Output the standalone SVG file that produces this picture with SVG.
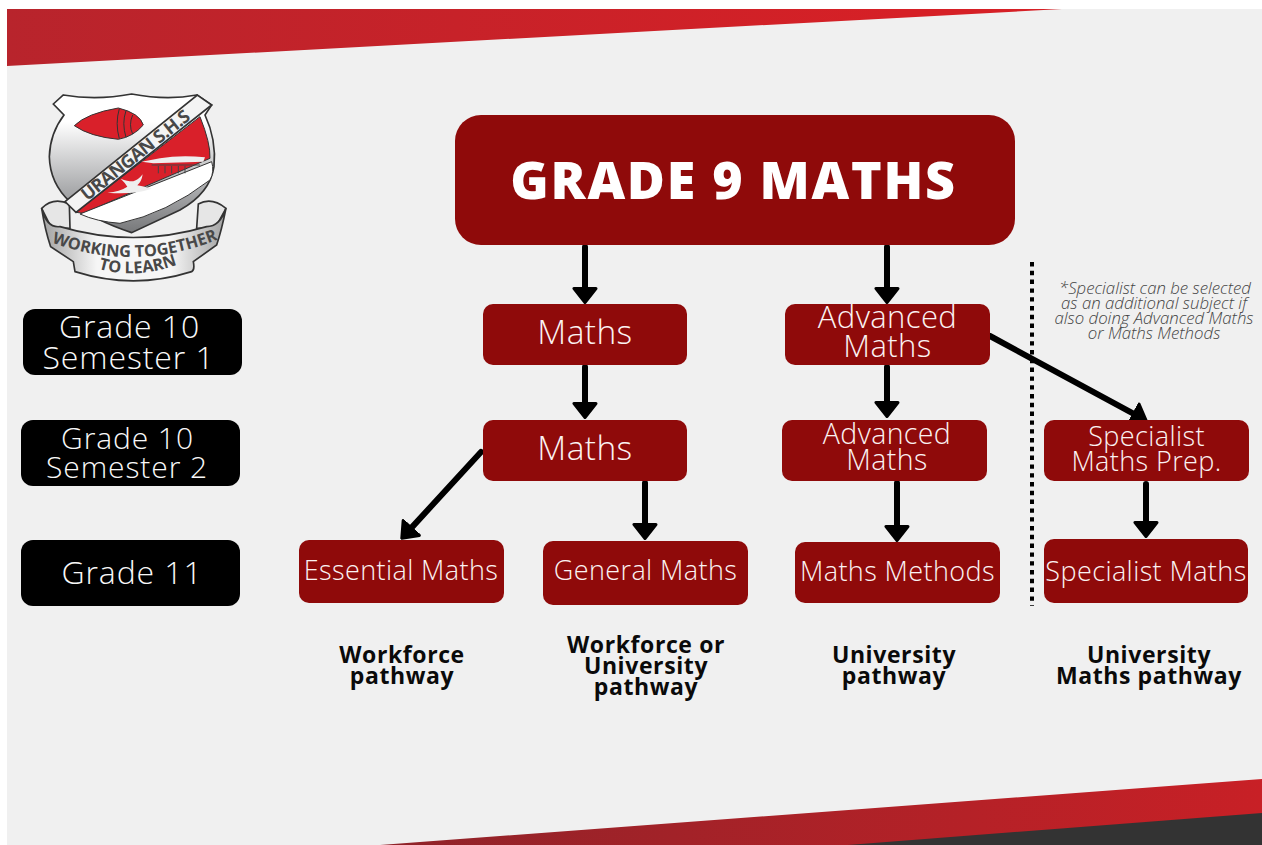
<svg xmlns="http://www.w3.org/2000/svg" width="1262" height="845" viewBox="0 0 1262 845">
<style>
.n{fill:#8f0a0a}
.k{fill:#000}
.t{font-family:"Open Sans","DejaVu Sans",sans-serif;font-weight:300;fill:#fbf2f2;text-anchor:middle;letter-spacing:.4px}
.w{font-family:"Open Sans","DejaVu Sans",sans-serif;font-weight:300;fill:#f8f8f8;text-anchor:middle;letter-spacing:.9px}
.title{font-family:"Open Sans","DejaVu Sans",sans-serif;font-weight:800;font-size:52px;fill:#fff;text-anchor:middle;letter-spacing:1.7px}
.p{font-family:"Open Sans","DejaVu Sans",sans-serif;font-weight:700;font-size:23px;fill:#0a0a0a;text-anchor:middle;letter-spacing:.6px}
.c{fill:none;stroke:#000;stroke-width:6;stroke-linecap:round}
.lg{font-family:"Open Sans","DejaVu Sans",sans-serif;font-weight:700;fill:#484848}
</style>
<defs>
<linearGradient id="top" x1="0" x2="1" y1="0" y2="0"><stop offset="0" stop-color="#b8242c"/><stop offset="0.85" stop-color="#d62026"/><stop offset="1" stop-color="#d62026"/></linearGradient>
<linearGradient id="bot" x1="0" x2="1" y1="0" y2="0"><stop offset="0" stop-color="#8f2329"/><stop offset="1" stop-color="#c82026"/></linearGradient>
<linearGradient id="sh" x1="0" x2="0" y1="0" y2="1"><stop offset="0.2" stop-color="#ffffff"/><stop offset="0.7" stop-color="#a8a9ab"/><stop offset="1" stop-color="#77787a"/></linearGradient>
<linearGradient id="rib" x1="0" x2="1" y1="0" y2="0"><stop offset="0" stop-color="#a0a0a0"/><stop offset="0.3" stop-color="#f6f6f6"/><stop offset="0.7" stop-color="#f6f6f6"/><stop offset="1" stop-color="#a0a0a0"/></linearGradient>
<marker id="a" markerUnits="userSpaceOnUse" markerWidth="17" markerHeight="26" refX="1" refY="13" orient="auto" viewBox="0 0 17 26"><path d="M1.5 2L15.5 13L1.5 24Z" fill="#000" stroke="#000" stroke-width="3" stroke-linejoin="round"/></marker>
<path id="arc1" d="M95,487 Q340,580 595,478"/>
<path id="arc2" d="M235,566 Q345,600 475,553"/>
</defs>
<rect width="1262" height="845" fill="#fff"/>
<rect x="7" y="9" width="1255" height="836" fill="#f0f0f0"/>
<polygon points="7,9 1062,9 7,66" fill="url(#top)"/>
<polygon points="380,845 1262,779 1262,845" fill="url(#bot)"/>
<polygon points="848,845 1262,813 1262,845" fill="#333"/>

<g id="logo" transform="translate(20 80) scale(0.3333)">
<path d="M65,385 Q100,350 148,372 L150,445 L95,445 Z" fill="#e6e6e6" stroke="#333" stroke-width="5"/>
<path d="M618,385 Q575,350 535,372 L530,445 L585,445 Z" fill="#e6e6e6" stroke="#333" stroke-width="5"/>
<path d="M65,385 Q80,445 120,440 Q340,505 560,440 Q600,440 618,385 Q605,450 590,495 L520,545 Q525,570 515,575 Q340,630 165,575 L160,545 L92,500 Q75,450 65,385Z" fill="url(#rib)" stroke="#333" stroke-width="5"/>
<path d="M100,72 L130,45 Q230,62 335,42 Q440,62 530,45 L575,75 L555,105 Q590,180 582,260 Q570,340 480,390 L335,458 Q220,420 150,365 Q90,310 88,230 Q90,160 132,105 Z" fill="url(#sh)" stroke="#333" stroke-width="5"/>
<path d="M168,397 L540,110 Q572,190 570,235 L190,400 Z" fill="#d9202a" stroke="#333" stroke-width="3"/>
<path d="M135,365 L532,45 L575,75 L168,397 Z" fill="#f4f4f4" stroke="#333" stroke-width="5"/>
<path d="M180,402 L575,245 Q584,275 570,300 Q440,400 300,430 Q230,425 180,402Z" fill="#fff" stroke="#333" stroke-width="3"/>
<path d="M163,137 Q200,100 295,84 Q360,100 370,135 Q340,170 295,178 Q210,170 163,137Z" fill="#d9202a" stroke="#333" stroke-width="3"/>
<path d="M298,86 Q285,130 298,176 M318,92 Q305,130 318,172 M338,105 Q325,135 338,162" fill="none" stroke="#333" stroke-width="3"/>
<path d="M365,245 L420,235 Q480,225 555,232 L550,245 L400,250Z" fill="#eee"/>
<path d="M395,255 H540 M415,258 V280 M435,258 V280 M455,258 V280 M475,258 V280 M495,258 V280" fill="none" stroke="#444" stroke-width="3"/>
<path d="M302,296 Q325,305 340,304 Q355,300 368,283 Q365,305 352,316 Q375,320 395,326 Q340,345 262,338 Q300,335 322,320 Q315,308 302,296Z" fill="#eee"/>
<text class="lg" font-size="54" text-anchor="middle" transform="translate(358 240) rotate(-38.5)" textLength="400">URANGAN S.H.S</text>
<text class="lg" font-size="49"><textPath href="#arc1">WORKING TOGETHER</textPath></text>
<text class="lg" font-size="49"><textPath href="#arc2">TO LEARN</textPath></text>
</g>

<g id="connectors">
<line class="c" x1="585" y1="247" x2="585" y2="288" marker-end="url(#a)"/>
<line class="c" x1="887" y1="247" x2="887" y2="288" marker-end="url(#a)"/>
<line class="c" x1="585" y1="367" x2="585" y2="403" marker-end="url(#a)"/>
<line class="c" x1="887" y1="367" x2="887" y2="402" marker-end="url(#a)"/>
<line class="c" x1="990" y1="336" x2="1133.4" y2="413.6" marker-end="url(#a)"/>
<line class="c" x1="481" y1="452" x2="411.6" y2="527.6" marker-end="url(#a)"/>
<line class="c" x1="645" y1="483" x2="645" y2="524" marker-end="url(#a)"/>
<line class="c" x1="897" y1="483" x2="897" y2="526" marker-end="url(#a)"/>
<line class="c" x1="1146" y1="484" x2="1146" y2="522" marker-end="url(#a)"/>
<line x1="1032" y1="262" x2="1032" y2="606" fill="none" stroke="#000" stroke-width="4" stroke-dasharray="4.4 4.4"/>
</g>

<g id="grade9"><rect class="n" x="455" y="115" width="560" height="130" rx="26"/><text class="title" x="733.5" y="199">GRADE 9 MATHS</text></g>
<g id="maths1"><rect class="n" x="483" y="304" width="204" height="61" rx="10"/><text class="t" x="585" y="344" font-size="33.5">Maths</text></g>
<g id="adv1"><rect class="n" x="785" y="304" width="205" height="61" rx="10"/><text class="t" x="887.5" y="328" font-size="31">Advanced</text><text class="t" x="887.5" y="357" font-size="31">Maths</text></g>
<g id="maths2"><rect class="n" x="483" y="420" width="204" height="61" rx="10"/><text class="t" x="585" y="460" font-size="33.5">Maths</text></g>
<g id="adv2"><rect class="n" x="782" y="420" width="205" height="61" rx="10"/><text class="t" x="887" y="444" font-size="28.5">Advanced</text><text class="t" x="887" y="470" font-size="28.5">Maths</text></g>
<g id="spec-prep"><rect class="n" x="1044" y="420" width="205" height="61" rx="10"/><text class="t" x="1146.5" y="446" font-size="27">Specialist</text><text class="t" x="1146.5" y="471" font-size="27">Maths Prep.</text></g>
<g id="essential"><rect class="n" x="299" y="540" width="205" height="63" rx="10"/><text class="t" x="401" y="580" font-size="27">Essential Maths</text></g>
<g id="general"><rect class="n" x="543" y="541" width="205" height="64" rx="10"/><text class="t" x="645.5" y="580" font-size="27">General Maths</text></g>
<g id="methods"><rect class="n" x="795" y="542" width="205" height="61" rx="10"/><text class="t" x="897.5" y="581" font-size="27">Maths Methods</text></g>
<g id="specialist"><rect class="n" x="1044" y="539" width="204" height="64" rx="10"/><text class="t" x="1146" y="581" font-size="27">Specialist Maths</text></g>

<g id="g10s1"><rect class="k" x="23" y="309" width="219" height="66" rx="12"/><text class="w" x="129.5" y="338" font-size="32">Grade 10</text><text class="w" x="128.5" y="369" font-size="32">Semester 1</text></g>
<g id="g10s2"><rect class="k" x="21" y="420" width="219" height="66" rx="12"/><text class="w" x="127.5" y="449" font-size="30">Grade 10</text><text class="w" x="127" y="478" font-size="30">Semester 2</text></g>
<g id="g11"><rect class="k" x="21" y="540" width="219" height="66" rx="12"/><text class="w" x="132" y="584" font-size="32">Grade 11</text></g>

<g id="note" font-family="'Open Sans','DejaVu Sans',sans-serif" font-style="italic" font-weight="300" font-size="16.8" fill="#444" text-anchor="middle">
<text x="1155" y="294">*Specialist can be selected</text>
<text x="1154" y="309">as an additional subject if</text>
<text x="1154" y="324">also doing Advanced Maths</text>
<text x="1154" y="339">or Maths Methods</text>
</g>

<g id="pathways">
<text class="p" x="402" y="663">Workforce</text><text class="p" x="402" y="684">pathway</text>
<text class="p" x="646" y="653">Workforce or</text><text class="p" x="646" y="674">University</text><text class="p" x="646" y="695">pathway</text>
<text class="p" x="894" y="663">University</text><text class="p" x="894" y="684">pathway</text>
<text class="p" x="1149" y="663">University</text><text class="p" x="1149" y="684">Maths pathway</text>
</g>
</svg>
